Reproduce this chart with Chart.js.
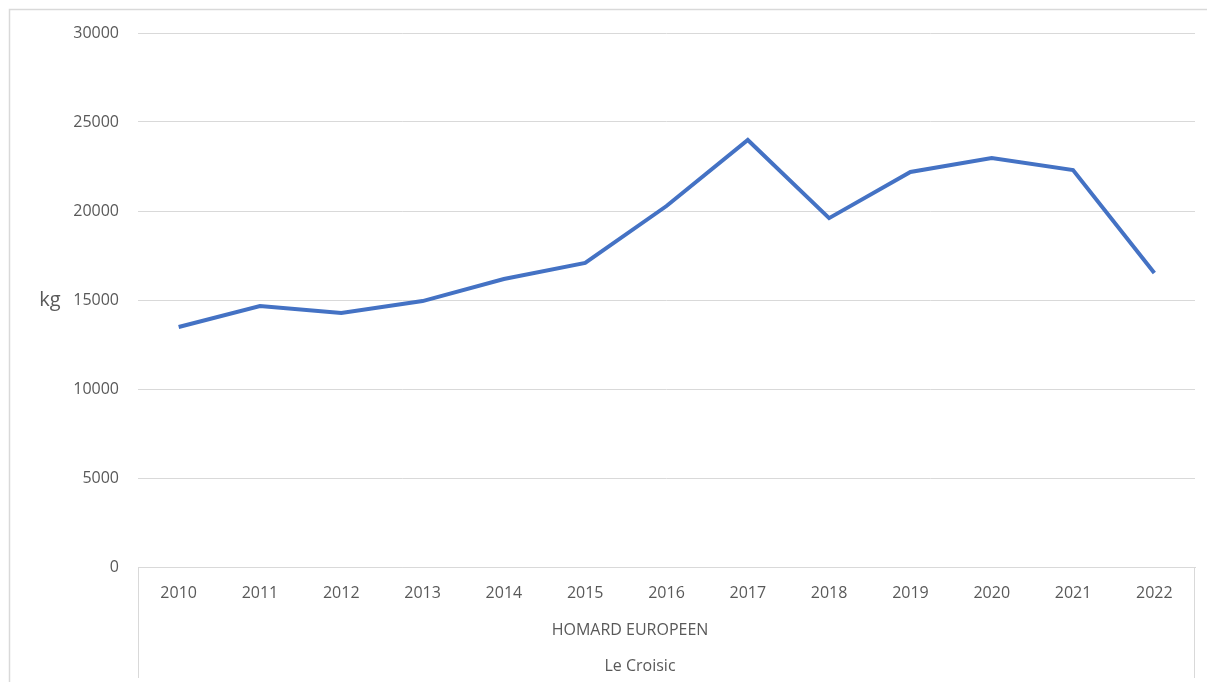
<!DOCTYPE html>
<html>
<head>
<meta charset="utf-8">
<script src="https://cdn.jsdelivr.net/npm/chart.js@4"></script>
<style>
html,body{margin:0;padding:0;background:#fff;}
#wrap{width:1207px;height:682px;position:relative;}
</style>
</head>
<body>
<div id="wrap"><canvas id="chart" width="1207" height="682"></canvas></div>
<script>
const years=['2010','2011','2012','2013','2014','2015','2016','2017','2018','2019','2020','2021','2022'];
const kg=[13480,14660,14270,14940,16180,17080,20280,23990,19600,22190,22980,22300,16520];
const groupLabels=['HOMARD EUROPEEN','Le Croisic'];
const yTitle='kg';

const C={line:'#4472C4',grid:'#d9d9d9',text:'#595959',border:'#d9d9d9'};
const FONT='"Open Sans", "Liberation Sans", sans-serif';

// frame, multi-level axis separators and labels
const extras={
  id:'extras',
  afterDraw(chart){
    const {ctx,chartArea:a}=chart;
    ctx.save();
    ctx.strokeStyle=C.border;ctx.lineWidth=1.5;
    ctx.beginPath();
    ctx.moveTo(9.5,682);ctx.lineTo(9.5,9.5);ctx.lineTo(1207,9.5);
    ctx.stroke();
    ctx.lineWidth=1;ctx.strokeStyle=C.grid;
    ctx.beginPath();
    ctx.moveTo(Math.round(a.left)+0.5,a.bottom);ctx.lineTo(Math.round(a.left)+0.5,678);
    ctx.moveTo(Math.round(a.right)-0.5,a.bottom);ctx.lineTo(Math.round(a.right)-0.5,678);
    ctx.stroke();
    ctx.fillStyle=C.text;ctx.textAlign='center';ctx.textBaseline='middle';
    ctx.font='16px '+FONT;
    ctx.fillText(groupLabels[0],630,630);
    ctx.fillText(groupLabels[1],640,666);
    ctx.font='20px '+FONT;
    ctx.fillText(yTitle,50,300);
    ctx.restore();
  }
};

new Chart(document.getElementById('chart'),{
  type:'line',
  data:{labels:years,datasets:[{
    data:kg,borderColor:C.line,borderWidth:4,pointRadius:0,tension:0,fill:false
  }]},
  options:{
    responsive:false,animation:false,
    layout:{padding:{top:33,right:12,bottom:0,left:0}},
    plugins:{legend:{display:false},tooltip:{enabled:false}},
    scales:{
      x:{offset:true,
        grid:{display:false,drawTicks:false},
        border:{display:true,color:C.grid},
        ticks:{color:C.text,font:{size:16,family:FONT},padding:17,maxRotation:0},
        afterFit(s){s.height=115;}},
      y:{min:0,max:30000,
        grid:{color:C.grid,drawTicks:false},
        border:{display:false},
        ticks:{stepSize:5000,color:C.text,font:{size:16,family:FONT},padding:19,callback:v=>String(v)},
        afterFit(s){s.width=138;}}
    }
  },
  plugins:[extras]
});
</script>
</body>
</html>
